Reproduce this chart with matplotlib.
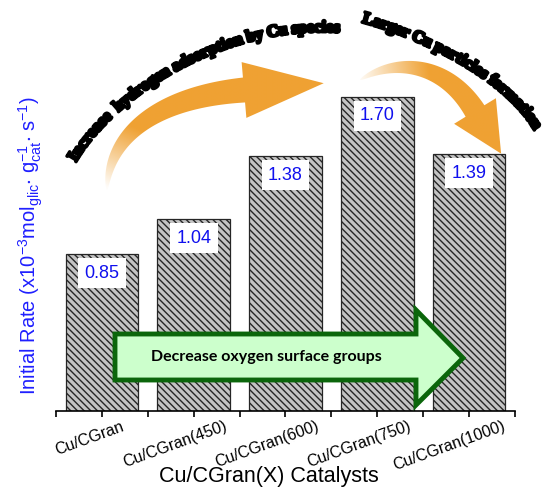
import numpy as np
import matplotlib
matplotlib.use('Agg')
import matplotlib.pyplot as plt
from matplotlib.patches import Polygon
from matplotlib.transforms import ScaledTranslation
from matplotlib.textpath import TextToPath
from matplotlib.font_manager import FontProperties
import matplotlib.patheffects as pe

plt.rcParams['font.family'] = ['Liberation Sans', 'DejaVu Sans']
plt.rcParams['mathtext.fontset'] = 'custom'
plt.rcParams['mathtext.rm'] = 'Liberation Sans'
plt.rcParams['mathtext.it'] = 'Liberation Sans:italic'
plt.rcParams['mathtext.default'] = 'regular'
plt.rcParams['hatch.linewidth'] = 1.0

# data
catalysts = ['Cu/CGran', 'Cu/CGran(450)', 'Cu/CGran(600)', 'Cu/CGran(750)', 'Cu/CGran(1000)']
rates = [0.85, 1.04, 1.38, 1.70, 1.39]
rate_labels = ['0.85', '1.04', '1.38', '1.70', '1.39']
note_up = 'Increase  hydrogen adsorption by Cu species'
note_down = 'Larger Cu particles formation'
note_oxygen = 'Decrease oxygen surface groups'

ORANGE = (0.94, 0.635, 0.20)

fig = plt.figure(figsize=(5.5, 5.01), dpi=100)
ax = fig.add_axes([0.1018, 0.1796, 0.8345, 0.8124])
x = np.arange(len(catalysts))
ax.bar(x, rates, width=0.79, color='#c4c4c4', edgecolor='#262626',
       linewidth=0.9, hatch='\\' * 5, zorder=2)
for xi, r, lab in zip(x, rates, rate_labels):
    ax.text(xi, r - 0.105, lab, ha='center', va='center', color='#1010ee',
            fontsize=13, zorder=3,
            bbox=dict(boxstyle='square,pad=0.35', fc='white', ec='none'))

ax.set_xlim(-0.5, 4.5)
ax.set_ylim(0, 2.2)
ax.set_xticks(x, catalysts, rotation=20, fontsize=11.5)
ax.set_xticks(np.arange(-0.5, 5.0, 1.0), minor=True)
ax.set_yticks([])
ax.tick_params(axis='x', which='both', direction='out', length=4, width=1.2, pad=1.5)
for s in ['left', 'top', 'right']:
    ax.spines[s].set_visible(False)
ax.spines['bottom'].set_linewidth(1.2)
ax.patch.set_alpha(0)

ax.set_xlabel('Cu/CGran(X) Catalysts', fontsize=15.5)
ax.xaxis.set_label_coords(0.464, -0.135)
ax.set_ylabel(r'Initial Rate (x10$^{-3}$mol$_{glic}$$\cdot$ g$_{cat}^{-1}$$\cdot$ s$^{-1}$)',
              color='#1f1fff', fontsize=14.5)
ax.yaxis.set_label_coords(-0.024, 0.405)

# nudge rotated tick labels to the left like the original
fig.canvas.draw()
for lab in ax.get_xticklabels():
    w = lab.get_window_extent().width
    lab.set_transform(lab.get_transform() +
                      ScaledTranslation(-0.17 * w / fig.dpi, 0, fig.dpi_scale_trans))

# overlay in pixel coordinates for the decorations
deco = fig.add_axes([0, 0, 1, 1])
deco.set_zorder(3)
deco.axis('off')


def bez(ctrl, t):
    p = np.asarray(ctrl, float)
    t = np.asarray(t)[:, None]
    pts = ((1 - t) ** 3 * p[0] + 3 * (1 - t) ** 2 * t * p[1]
           + 3 * (1 - t) * t ** 2 * p[2] + t ** 3 * p[3])
    der = (3 * (1 - t) ** 2 * (p[1] - p[0]) + 6 * (1 - t) * t * (p[2] - p[1])
           + 3 * t ** 2 * (p[3] - p[2]))
    return pts, der


def curved_arrow(ctrl, body_w, head_w, head_len, fade0, fade1):
    t = np.linspace(0, 1, 120)
    pts, der = bez(ctrl, t)
    d = der / np.linalg.norm(der, axis=1)[:, None]
    n = np.column_stack([d[:, 1], -d[:, 0]])
    w = body_w * t ** 0.6 / 2
    upper = pts + n * w[:, None]
    lower = pts - n * w[:, None]
    end, de, ne = pts[-1], d[-1], n[-1]
    head = [end + ne * head_w / 2, end + de * head_len, end - ne * head_w / 2]
    poly = np.vstack([upper, head, lower[::-1]])
    patch = Polygon(poly, closed=True, fc='none', ec='none')
    deco.add_patch(patch)
    x0, y0 = poly.min(axis=0) - 2
    x1, y1 = poly.max(axis=0) + 2
    gx, gy = np.meshgrid(np.linspace(x0, x1, 300), np.linspace(y0, y1, 300))
    f0, f1 = np.array(fade0, float), np.array(fade1, float)
    u = f1 - f0
    proj = ((gx - f0[0]) * u[0] + (gy - f0[1]) * u[1]) / (u @ u)
    alpha = np.clip(proj, 0.03, 1.0)
    rgba = np.zeros(gx.shape + (4,))
    rgba[..., 0], rgba[..., 1], rgba[..., 2] = ORANGE
    rgba[..., 3] = alpha
    im = deco.imshow(rgba, extent=(x0, x1, y1, y0), origin='upper',
                     aspect='auto', interpolation='bilinear')
    im.set_clip_path(patch)


def curve_text(text, ctrl, size, off=4.5):
    prop = FontProperties(family='Liberation Serif', weight='bold', size=size)
    t2p = TextToPath()
    k = fig.dpi / 72.0

    def width(s):
        return t2p.get_text_width_height_descent(s, prop, ismath=False)[0] * k

    space = width('a a') - width('aa')
    adv = np.array([space if c == ' ' else width(c) + 0.4 for c in text])
    centers = np.cumsum(adv) - adv / 2
    tt = np.linspace(0, 1, 2000)
    pts, der = bez(ctrl, tt)
    seg = np.r_[0, np.cumsum(np.linalg.norm(np.diff(pts, axis=0), axis=1))]
    scale = seg[-1] / adv.sum()
    for c, cpos in zip(text, centers):
        if c == ' ':
            continue
        ti = np.interp(cpos * scale, seg, tt)
        p, dv = bez(ctrl, [ti])
        p, dv = p[0], dv[0]
        ang = np.arctan2(-dv[1], dv[0])
        down = np.array([np.sin(ang), np.cos(ang)])
        q = p + down * off
        deco.text(q[0], q[1], c, fontproperties=prop, ha='center', va='baseline',
                  rotation=np.degrees(ang), rotation_mode='anchor', color='black',
                  path_effects=[pe.withStroke(linewidth=2.2, foreground='black')])


curved_arrow([(107, 190), (108, 140), (150, 98), (244, 90)], 25, 56, 80,
             (108, 190), (135, 128))
curved_arrow([(360, 80), (395, 58), (445, 62), (475, 111)], 22, 49, 50,
             (356, 76), (428, 66))

curve_text(note_up, [(72, 160), (110, 95), (220, 20), (340, 28)], 12)
curve_text(note_down, [(363, 18), (423, 34), (508, 76), (538, 128)], 12)

green = Polygon([(115, 334), (416, 334), (416, 310), (463, 358), (416, 405),
                 (416, 380), (115, 380)], closed=True, fc='#ccffcc', ec='#0b660b',
                lw=3.5, joinstyle='miter')
deco.add_patch(green)
deco.text(266, 357, note_oxygen, ha='center', va='center', fontsize=11.5,
          family='Lato', weight='bold', color='black')

deco.set_xlim(0, 550)
deco.set_ylim(501, 0)

fig.savefig('out.png', dpi=100)
